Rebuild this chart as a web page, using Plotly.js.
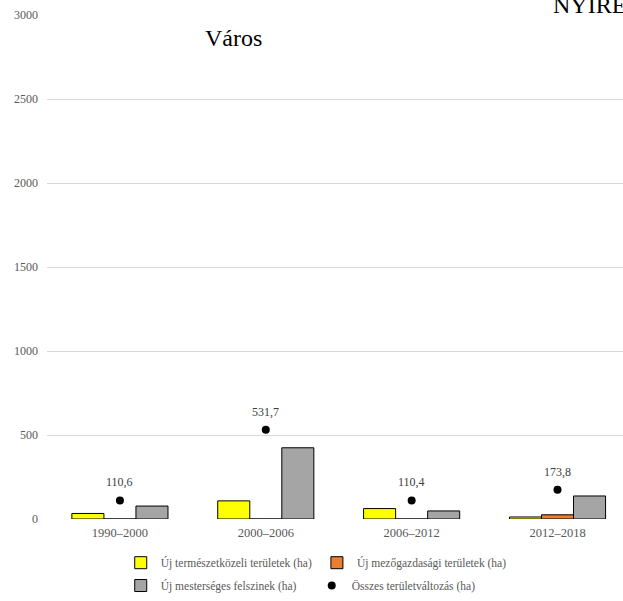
<!DOCTYPE html>
<html>
<head>
<meta charset="utf-8">
<script src="https://cdn.plot.ly/plotly-3.0.1.min.js"></script>
<style>html,body{margin:0;padding:0;background:#fff;}#chart{width:623px;height:601px;}</style>
</head>
<body>
<div id="chart"></div>
<script>
const categories = ["1990–2000", "2000–2006", "2006–2012", "2012–2018"];
const naturalNew = [33, 108, 62, 12];
const agriNew = [0, 0, 0, 25];
const artificialNew = [77, 424, 48, 137];
const totalChange = [110.6, 531.7, 110.4, 173.8];
const yTicks = [0, 500, 1000, 1500, 2000, 2500, 3000];
const seriesNames = [
  "Új természetközeli területek (ha)",
  "Új mezőgazdasági területek (ha)",
  "Új mesterséges felszinek (ha)",
  "Összes területváltozás (ha)"
];

const serif = "Liberation Serif, Times New Roman, serif";
const gray = "#595959";

const traces = [
  {type: "bar", x: categories, y: naturalNew, name: seriesNames[0],
   marker: {color: "#FFFF00", line: {color: "#000", width: 1}}, legend: "legend"},
  {type: "bar", x: categories, y: agriNew, name: seriesNames[1],
   marker: {color: "#ED7D31", line: {color: "#000", width: 1}}, legend: "legend"},
  {type: "bar", x: categories, y: artificialNew, name: seriesNames[2],
   marker: {color: "#A5A5A5", line: {color: "#000", width: 1}}, legend: "legend2"},
  {type: "scatter", mode: "markers", x: categories, y: totalChange, name: seriesNames[3],
   marker: {color: "#000", size: 8}, legend: "legend2"}
];

const valueLabels = categories.map((c, i) => ({
  x: c, y: totalChange[i], xref: "x", yref: "y",
  text: totalChange[i].toFixed(1).replace(".", ","),
  showarrow: false, yshift: 18,
  font: {family: serif, size: 12, color: "#404040"}
}));

const layout = {
  width: 623, height: 601,
  margin: {l: 47, r: 0, t: 15, b: 82},
  paper_bgcolor: "#fff", plot_bgcolor: "#fff",
  barmode: "group", bargap: 0.341, bargroupgap: 0,
  showlegend: true,
  xaxis: {
    type: "category", range: [-0.5, 3.449],
    showgrid: false, zeroline: false, showline: false,
    ticks: "", ticklabelstandoff: 4,
    tickfont: {family: serif, size: 12.5, color: gray}
  },
  yaxis: {
    range: [0, 3000], tickvals: yTicks, ticktext: yTicks.map(String),
    showgrid: true, gridcolor: "#d9d9d9", gridwidth: 1,
    zeroline: false, showline: false, ticks: "", ticklabelstandoff: 8,
    tickfont: {family: serif, size: 12, color: gray}
  },
  legend: {
    orientation: "h", x: 0.128, xanchor: "left", y: -0.0867, yanchor: "middle",
    itemwidth: 30,
    font: {family: serif, size: 11.5, color: gray}, bgcolor: "rgba(0,0,0,0)",
    traceorder: "normal"
  },
  legend2: {
    orientation: "h", x: 0.128, xanchor: "left", y: -0.132, yanchor: "middle",
    entrywidth: 146, entrywidthmode: "pixels", itemwidth: 30,
    font: {family: serif, size: 11.5, color: gray}, bgcolor: "rgba(0,0,0,0)",
    traceorder: "normal"
  },
  annotations: valueLabels.concat([
    {text: "Város", xref: "paper", yref: "paper", x: 0.323, y: 0.954,
     xanchor: "center", yanchor: "middle", showarrow: false,
     font: {family: serif, size: 24, color: "#000"}},
    {text: "NYÍREGYHÁZA", xref: "paper", yref: "paper", x: 0.875, y: 1.0198,
     xanchor: "left", yanchor: "middle", showarrow: false,
     font: {family: serif, size: 24, color: "#000"}}
  ])
};

Plotly.newPlot("chart", traces, layout, {displayModeBar: false, staticPlot: true});
</script>
</body>
</html>
